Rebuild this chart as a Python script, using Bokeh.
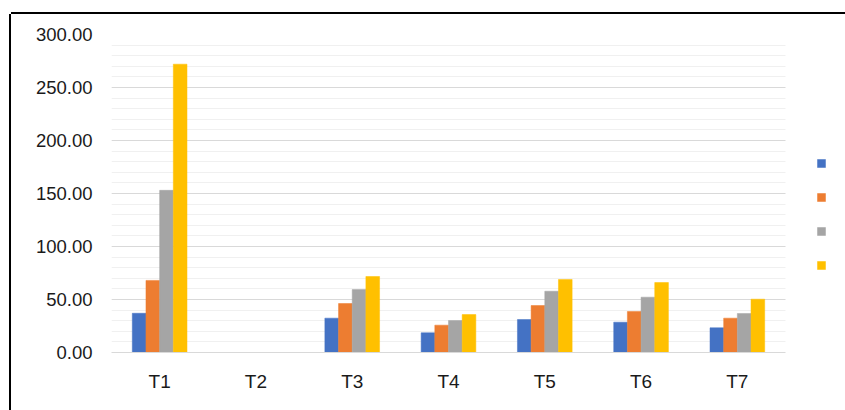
from bokeh.plotting import figure
from bokeh.models import (ColumnDataSource, Range1d, SingleIntervalTicker, FixedTicker,
                          NumeralTickFormatter, Legend, LegendItem, BoxAnnotation)
from bokeh.transform import dodge
from bokeh.core.properties import value
from bokeh.embed import file_html
from bokeh.resources import INLINE

categories = ["T1", "T2", "T3", "T4", "T5", "T6", "T7"]
series_1 = [37.0, 0, 32.4, 18.6, 31.1, 28.6, 23.3]
series_2 = [68.0, 0, 46.2, 25.8, 44.3, 38.7, 32.4]
series_3 = [153.0, 0, 59.4, 30.2, 57.8, 52.2, 36.8]
series_4 = [272.0, 0, 71.7, 35.8, 68.9, 66.0, 50.3]
series_names = ["s1", "s2", "s3", "s4"]
colors = ["#4472C4", "#ED7D31", "#A5A5A5", "#FFC000"]

n = len(categories)
xpos = [i + 0.5 for i in range(n)]
source = ColumnDataSource(dict(x=xpos, cat=categories, s1=series_1, s2=series_2,
                               s3=series_3, s4=series_4))

# frame runs to the right edge so the legend can sit inside it; the category
# area ends at x = n, the remainder is blank space
x_end = n * 734 / 674
p = figure(x_range=Range1d(0, x_end), y_range=Range1d(0, 300),
           width=834, height=396, output_backend="svg", toolbar_location=None,
           min_border_left=100, min_border_right=0, min_border_top=20, min_border_bottom=58)
p.margin = (14, 0, 0, 11)
p.styles = {"box-shadow": "0 -2px 0 0 black, -2px 0 0 0 black"}
p.outline_line_color = None
p.background_fill_color = "white"
p.border_fill_color = "white"

bw = 0.142
offsets = [-1.5 * bw, -0.5 * bw, 0.5 * bw, 1.5 * bw]
renderers = []
for name, off, c in zip(series_names, offsets, colors):
    r = p.vbar(x=dodge("x", off), top=name, width=bw, source=source,
               fill_color=c, line_color=c, line_width=0.5)
    renderers.append(r)

p.yaxis.ticker = SingleIntervalTicker(interval=50, num_minor_ticks=5)
p.yaxis.formatter = NumeralTickFormatter(format="0.00")
p.yaxis.axis_line_color = None
p.yaxis.major_tick_line_color = None
p.yaxis.minor_tick_line_color = None
p.yaxis.major_label_standoff = 13
p.yaxis.major_label_text_font = "Liberation Sans"
p.yaxis.major_label_text_font_size = "18.5px"
p.yaxis.major_label_text_color = "#1a1a1a"

p.xaxis.ticker = FixedTicker(ticks=xpos)
p.xaxis.major_label_overrides = {x: c for x, c in zip(xpos, categories)}
p.xaxis.bounds = (0, n)
p.xaxis.axis_line_color = "#d9d9d9"
p.xaxis.major_tick_line_color = None
p.xaxis.minor_tick_line_color = None
p.xaxis.major_label_standoff = 12
p.xaxis.major_label_text_font = "Liberation Sans"
p.xaxis.major_label_text_font_size = "19px"
p.xaxis.major_label_text_color = "#1a1a1a"

p.xgrid.grid_line_color = None
p.ygrid.grid_line_color = "#d9d9d9"
p.ygrid.minor_grid_line_color = "#f0f0f0"

# blank out the gridlines beyond the category area
p.add_layout(BoxAnnotation(left=n, fill_color="white", fill_alpha=1.0, line_color=None,
                           level="underlay"))

items = [LegendItem(label=value(" "), renderers=[r]) for r in renderers]
legend = Legend(items=items, location=(705, 82), padding=0, margin=0, spacing=24,
                glyph_width=10, glyph_height=10, label_height=10, label_width=0,
                label_standoff=0, label_text_font_size="1px",
                border_line_color=None, background_fill_alpha=0)
p.add_layout(legend, "center")

open("out.html", "w").write(file_html(p, INLINE))
